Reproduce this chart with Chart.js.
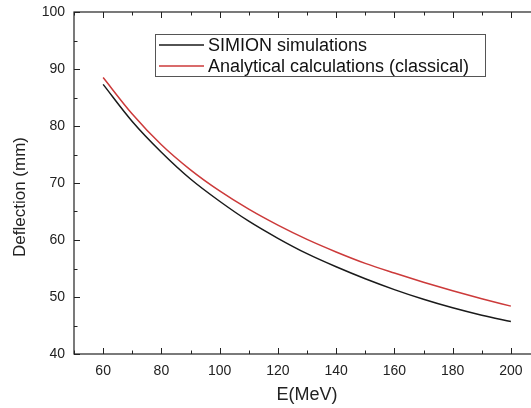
<!DOCTYPE html>
<html>
<head>
<meta charset="utf-8">
<script src="https://cdn.jsdelivr.net/npm/chart.js@4/dist/chart.umd.min.js"></script>
<style>
  html, body { margin: 0; padding: 0; background: #fff; overflow: hidden; }
  #wrap { width: 545px; height: 408px; }
</style>
</head>
<body>
<div id="wrap"><canvas id="chart1" width="545" height="408"></canvas></div>
<script>
// energies (MeV)
const energy = [60, 70, 80, 90, 100, 110, 120, 130, 140, 150, 160, 170, 180, 190, 200];
// deflection (mm)
const simion = [87.3, 80.8, 75.4, 70.7, 66.8, 63.3, 60.3, 57.6, 55.3, 53.2, 51.3, 49.6, 48.1, 46.8, 45.7];
const analytical = [88.5, 82.1, 76.7, 72.3, 68.6, 65.4, 62.6, 60.1, 57.9, 55.9, 54.2, 52.6, 51.1, 49.7, 48.4];
const seriesNames = ['SIMION simulations', 'Analytical calculations (classical)'];
const seriesColors = ['#1a1a1a', '#cc3a3a'];
const xLabels = [60, 80, 100, 120, 140, 160, 180, 200];
const yTitle = 'Deflection (mm)';

const FONT = "'Liberation Sans', Arial, sans-serif";

const pts = (ys) => energy.map((e, i) => ({ x: e, y: ys[i] }));

// box, inward ticks, legend, y title
const frame = {
    id: 'frame',
    afterDraw(chart) {
        const c = chart.ctx, a = chart.chartArea;
        const xs = chart.scales.x, ys = chart.scales.y;
        c.save();
        c.strokeStyle = '#222';
        c.lineWidth = 1.2;
        c.strokeRect(a.left, a.top, a.right - a.left, a.bottom - a.top);
        c.lineWidth = 1;
        c.beginPath();
        for (let v = 50; v <= 210; v += 10) {
            const px = Math.round(xs.getPixelForValue(v)) + 0.5;
            const len = (v % 20 === 0) ? 6 : 3.5;
            c.moveTo(px, a.bottom); c.lineTo(px, a.bottom - len);
            c.moveTo(px, a.top); c.lineTo(px, a.top + len);
        }
        for (let v = 40; v <= 100; v += 5) {
            const py = Math.round(ys.getPixelForValue(v)) + 0.5;
            const len = (v % 10 === 0) ? 6 : 3.5;
            c.moveTo(a.left, py); c.lineTo(a.left + len, py);
            c.moveTo(a.right, py); c.lineTo(a.right - len, py);
        }
        c.stroke();

        // y title
        c.save();
        c.translate(20, 197);
        c.rotate(-Math.PI / 2);
        c.font = '17px ' + FONT;
        c.fillStyle = '#222';
        c.textAlign = 'center';
        c.textBaseline = 'middle';
        c.fillText(yTitle, 0, 0);
        c.restore();

        // legend
        const lx = 155, ly = 34, lw = 330, lh = 42;
        c.fillStyle = '#fff';
        c.fillRect(lx, ly, lw, lh);
        c.strokeStyle = '#555';
        c.lineWidth = 1;
        c.strokeRect(lx + 0.5, ly + 0.5, lw, lh);
        c.font = '18px ' + FONT;
        c.textBaseline = 'middle';
        chart.data.datasets.forEach((ds, i) => {
            const y = ly + 11 + i * 21;
            c.strokeStyle = ds.borderColor;
            c.lineWidth = 1.3;
            c.beginPath();
            c.moveTo(lx + 4, y); c.lineTo(lx + 49, y);
            c.stroke();
            c.fillStyle = '#111';
            c.fillText(ds.label, lx + 53, y + 1);
        });
        c.restore();
    }
};

const ctx = document.getElementById('chart1');
const chart = new Chart(ctx, {
    type: 'line',
    data: {
        datasets: [
            { label: seriesNames[0], data: pts(simion), borderColor: seriesColors[0], borderWidth: 1.5, pointRadius: 0, cubicInterpolationMode: 'monotone', fill: false },
            { label: seriesNames[1], data: pts(analytical), borderColor: seriesColors[1], borderWidth: 1.5, pointRadius: 0, cubicInterpolationMode: 'monotone', fill: false }
        ]
    },
    options: {
        responsive: false,
        animation: false,
        layout: { padding: { top: 12, right: 5, left: 0, bottom: 0 } },
        plugins: { legend: { display: false }, tooltip: { enabled: false } },
        scales: {
            x: {
                type: 'linear',
                min: 50, max: 210,
                afterFit(s) { s.height = 54; s.paddingLeft = 0; s.paddingRight = 0; },
                grid: { display: false, drawTicks: false },
                border: { display: false },
                ticks: {
                    stepSize: 10, autoSkip: false, maxRotation: 0, padding: 9,
                    color: '#222', font: { family: FONT, size: 14 },
                    callback: (v) => xLabels.includes(v) ? String(v) : ''
                },
                title: { display: true, text: 'E(MeV)', color: '#222', font: { family: FONT, size: 18 }, padding: { top: 0, bottom: 2 } }
            },
            y: {
                min: 40, max: 100,
                afterFit(s) { s.width = 74; s.paddingTop = 0; s.paddingBottom = 0; },
                grid: { display: false, drawTicks: false },
                border: { display: false },
                ticks: { stepSize: 10, padding: 9, color: '#222', font: { family: FONT, size: 14 } }
            }
        }
    },
    plugins: [frame]
});
</script>
</body>
</html>
